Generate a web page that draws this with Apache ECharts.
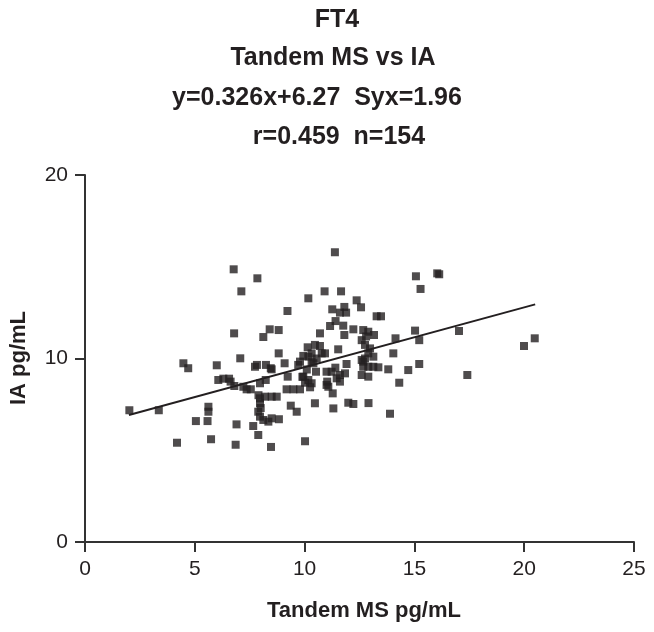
<!DOCTYPE html>
<html>
<head>
<meta charset="utf-8">
<script src="https://cdn.jsdelivr.net/npm/echarts@6/dist/echarts.min.js"></script>
<style>
html,body{margin:0;padding:0;background:#fff;}
#chart{width:654px;height:632px;}
</style>
</head>
<body>
<div id="chart"></div>
<script>
var titleLines = ['FT4', 'Tandem MS vs IA', 'y=0.326x+6.27  Syx=1.96', 'r=0.459  n=154'];
var xTicks = [0, 5, 10, 15, 20, 25];
var yTicks = [0, 10, 20];
var xName = 'Tandem MS pg/mL';
var yName = 'IA pg/mL';

var msX = [2.02,3.36,6.77,7.85,7.12,6.79,8.41,8.12,8.82,8.82,4.48,4.70,6.0,7.07,7.74,7.83,8.24,8.46,6.07,6.3,6.56,6.63,6.8,7.21,7.36,7.55,7.97,8.23,7.97,8.2,8.5,8.73,7.97,7.89,7.97,8.12,8.35,8.5,8.83,5.62,5.62,5.05,5.58,6.9,7.66,7.89,4.19,5.74,6.86,8.47,
11.38,15.07,15.28,16.04,16.13,10.91,11.66,10.17,12.37,12.57,9.22,11.26,11.81,11.89,11.61,13.28,13.48,11.41,11.16,11.76,12.22,10.7,11.81,12.67,12.9,13.16,12.6,12.75,12.98,14.14,15.03,15.22,10.14,10.47,10.7,10.78,10.93,10.32,9.94,11.53,9.79,9.71,10.17,10.32,10.4,12.9,13.13,12.67,14.04,8.5,9.09,11.91,10.52,11.0,11.23,11.61,11.84,12.6,12.67,12.9,13.13,13.36,13.81,14.72,15.22,9.23,9.94,10.17,10.02,10.32,12.6,12.9,11.46,11.61,11.03,11.0,11.08,9.18,9.49,9.79,10.25,14.31,11.28,10.47,9.37,9.64,11.31,11.99,12.22,12.91,13.89,10.02,
17.03,19.99,20.48,17.41,
10.55,12.75,8.0,11.4,12.8,10.1,7.9,9.9];
var iaY = [7.18,7.18,14.86,14.37,13.66,11.37,11.59,11.17,11.55,10.28,9.74,9.47,9.63,10.01,9.55,9.65,9.65,9.47,8.83,8.9,8.9,8.74,8.5,8.46,8.32,8.32,8.65,8.83,7.83,7.92,7.92,7.92,7.56,7.10,6.83,6.65,6.56,6.74,6.69,7.37,7.10,6.59,6.59,6.41,6.32,5.83,5.41,5.6,5.3,5.18,
15.79,14.48,13.79,14.64,14.59,13.66,13.66,13.28,13.17,12.79,12.59,12.68,12.81,12.5,12.5,12.3,12.3,12.04,11.77,11.79,11.59,11.37,11.28,11.55,11.46,11.28,11.0,10.74,10.55,11.1,11.52,11.0,10.61,10.74,10.68,10.28,10.28,10.28,10.14,10.5,9.83,9.65,10.1,9.83,9.74,10.28,10.1,9.83,10.28,9.41,9.74,9.7,9.28,9.28,9.28,9.1,9.19,9.92,9.55,9.55,9.55,9.52,9.41,9.37,9.7,9.01,9.01,8.83,8.68,8.65,9.1,9.01,8.92,8.74,8.74,8.56,8.46,8.32,8.32,8.32,8.43,8.68,8.1,7.56,7.43,7.10,7.28,7.59,7.52,7.57,6.99,5.49,
11.5,10.68,11.1,9.1,
10.0,10.0,7.3,9.5,11.2,9.4,8.0,9.0];

var fitX = [2.0, 20.5];
var fitY = [6.92, 12.95];

var points = msX.map(function(v, i){ return [v, iaY[i]]; });
var fitLine = fitX.map(function(v, i){ return [v, fitY[i]]; });

var titleY = [20, 58, 98, 137];
var titleCX = [337, 333, 317, 339];
var graphics = titleLines.map(function(t, i){
  return {
    type: 'text',
    x: titleCX[i], y: titleY[i],
    style: {
      text: t,
      textAlign: 'center', textVerticalAlign: 'middle',
      font: 'bold 25px "Liberation Sans", Arial, sans-serif',
      fill: '#231f20'
    }
  };
});
graphics.push({
  type: 'text', x: 364, y: 611,
  style: {text: xName, textAlign: 'center', textVerticalAlign: 'middle',
    font: 'bold 22px "Liberation Sans", Arial, sans-serif', fill: '#231f20'}
});
graphics.push({
  type: 'text', x: 19, y: 358, rotation: Math.PI / 2,
  style: {text: yName, textAlign: 'center', textVerticalAlign: 'middle',
    font: 'bold 22px "Liberation Sans", Arial, sans-serif', fill: '#231f20'}
});

var chart = echarts.init(document.getElementById('chart'), null, {renderer: 'canvas'});
chart.setOption({
  animation: false,
  backgroundColor: '#ffffff',
  grid: {left: 85, right: 20, top: 175, bottom: 90, containLabel: false},
  xAxis: {
    type: 'value', min: 0, max: 25, interval: 5,
    axisLine: {onZero: false, lineStyle: {color: '#333', width: 2}},
    axisTick: {show: true, inside: false, length: 10, lineStyle: {color: '#333', width: 2}},
    axisLabel: {fontFamily: 'Liberation Sans', fontSize: 21, color: '#231f20', margin: 17},
    splitLine: {show: false}
  },
  yAxis: {
    type: 'value', min: 0, max: 20, interval: 10,
    axisLine: {show: true, onZero: false, lineStyle: {color: '#333', width: 2}},
    axisTick: {show: true, inside: false, length: 10, lineStyle: {color: '#333', width: 2}},
    axisLabel: {fontFamily: 'Liberation Sans', fontSize: 21, color: '#231f20', margin: 17},
    splitLine: {show: false}
  },
  graphic: graphics,
  series: [
    {
      type: 'scatter', data: points, symbol: 'rect', symbolSize: 8,
      itemStyle: {color: '#231f20'}, z: 3
    },
    {
      type: 'line', data: fitLine, showSymbol: false, symbol: 'none',
      lineStyle: {color: '#231f20', width: 2}, z: 2
    }
  ]
});
</script>
</body>
</html>
